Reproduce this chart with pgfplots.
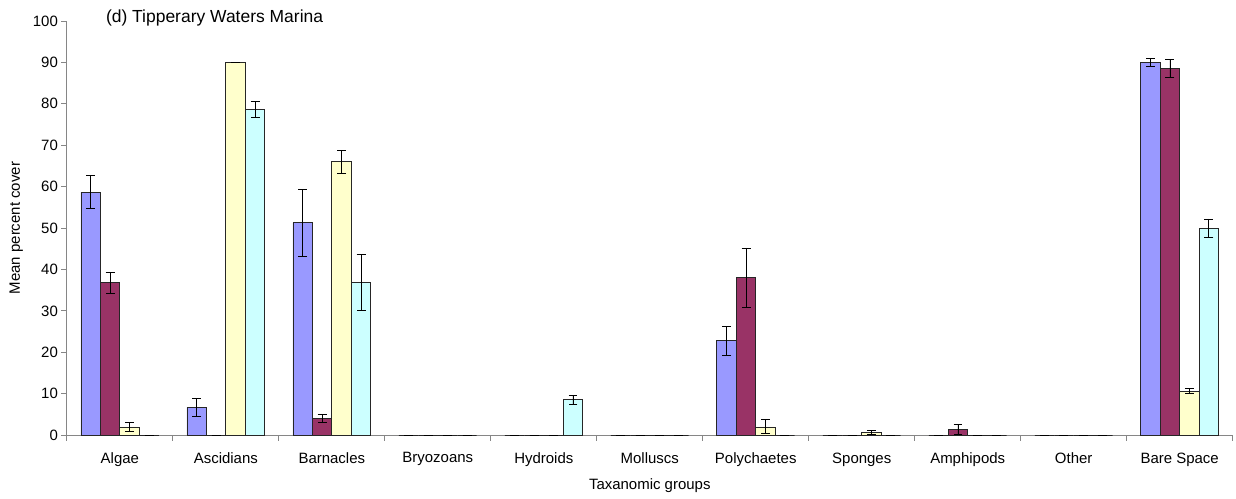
\documentclass[border=0pt]{standalone}
\usepackage{pgfplots}
\pgfplotsset{compat=1.18}
\usepackage{pgfplotstable}
\usepackage{fontspec}
\setmainfont{Liberation Sans}

\definecolor{serA}{HTML}{9999FF}
\definecolor{serB}{HTML}{993366}
\definecolor{serC}{HTML}{FFFFCC}
\definecolor{serD}{HTML}{CCFFFF}
\definecolor{axgray}{HTML}{868686}

% columns: category index, mean cover, error
\pgfplotstableread{
x y e
0 58.7 3.9
1 6.7 2.2
2 51.3 8.1
3 0 0
4 0 0
5 0 0
6 22.8 3.5
7 0 0
8 0 0
9 0 0
10 90.0 0.9
}\seriesA
\pgfplotstableread{
x y e
0 36.8 2.5
1 0 0
2 4.0 1.0
3 0 0
4 0 0
5 0 0
6 38.0 7.2
7 0 0
8 1.4 1.2
9 0 0
10 88.6 2.2
}\seriesB
\pgfplotstableread{
x y e
0 2.0 1.0
1 90.0 0
2 66.0 2.7
3 0 0
4 0 0
5 0 0
6 2.0 1.7
7 0.7 0.5
8 0 0
9 0 0
10 10.6 0.6
}\seriesC
\pgfplotstableread{
x y e
0 0 0
1 78.6 2.0
2 36.8 6.8
3 0 0
4 8.6 1.1
5 0 0
6 0 0
7 0 0
8 0 0
9 0 0
10 50.0 2.2
}\seriesD

\begin{document}
\begin{tikzpicture}
\begin{axis}[
  scale only axis,
  width=1168pt, height=415pt,
  ybar=0pt, bar width=19.5pt,
  xmin=-0.5, xmax=10.5,
  ymin=0, ymax=100,
  axis lines*=left,
  axis line style={axgray, line width=0.9pt},
  tick align=outside,
  major tick length=5.5pt,
  tick style={axgray, line width=0.9pt},
  ytick={0,10,...,100},
  xtick={-0.5,0.5,...,10.5},
  xticklabels={,,,,,,,,,,,},
  extra x ticks={0,1,2,3,4,5,6,7,8,9,10},
  extra x tick labels={Algae,Ascidians,Barnacles,Bryozoans,Hydroids,Molluscs,Polychaetes,Sponges,Amphipods,Other,Bare Space},
  extra x tick style={major tick length=0pt, grid=none},
  x tick label style={font=\fontsize{15}{18}\selectfont, yshift=-14pt},
  y tick label style={font=\fontsize{15}{18}\selectfont},
  /pgf/number format/assume math mode=true,
  xlabel={Taxanomic groups},
  ylabel={Mean percent cover},
  label style={font=\fontsize{15}{18}\selectfont},
  xlabel style={yshift=0pt},
  ylabel style={yshift=3pt},
  clip=false,
  error bars/y dir=both,
  error bars/y explicit,
  error bars/error bar style={black, line width=0.9pt},
  error bars/error mark options={black, line width=0.9pt, mark size=4.5pt, rotate=90},
]
\addplot[fill=serA, draw=black!85, line width=0.8pt] table[x=x, y=y, y error=e] {\seriesA};
\addplot[fill=serB, draw=black!85, line width=0.8pt] table[x=x, y=y, y error=e] {\seriesB};
\addplot[fill=serC, draw=black!85, line width=0.8pt] table[x=x, y=y, y error=e] {\seriesC};
\addplot[fill=serD, draw=black!85, line width=0.8pt] table[x=x, y=y, y error=e] {\seriesD};
\node[anchor=west, font=\fontsize{17.5}{20}\selectfont, inner sep=0pt]
  at ([xshift=39pt, yshift=3pt]rel axis cs:0,1) {(d) Tipperary Waters Marina};
\coordinate (bl) at (rel axis cs:0,0);
\coordinate (tr) at (rel axis cs:1,1);
\end{axis}
\path ([shift={(-67pt,-63pt)}]bl) rectangle ([shift={(1pt,21pt)}]tr);
\end{tikzpicture}
\end{document}
